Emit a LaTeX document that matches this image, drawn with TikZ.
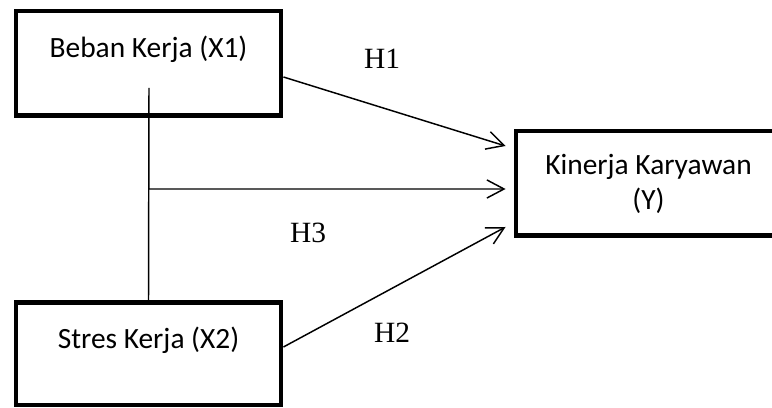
\documentclass[tikz,border=0pt]{standalone}
\usepackage{fontspec}
\setmainfont{Liberation Serif}
\newfontfamily\boxfont{Carlito}
\usetikzlibrary{positioning, calc}
\usetikzlibrary{arrows.meta}

\tikzset{
  varbox/.style={draw, line width=2pt, minimum width=108.1pt, minimum height=42.6pt,
    inner sep=0pt, align=center, font=\boxfont\fontsize{12}{14.3}\selectfont},
  hyp/.style={-{Straight Barb[length=7pt, width=7.4pt]}, line width=0.6pt},
  hlabel/.style={anchor=base, inner sep=0pt, font=\fontsize{12}{14}\selectfont}
}

\begin{document}
\begin{tikzpicture}[x=0.408pt, y=-0.408pt]

% Manually size the picture
\useasboundingbox (0, 0) rectangle (772, 408);

% Variable boxes
\node[varbox, text height=8pt, text depth=12.3pt] (x1) at (148.5, 63.25) {Beban Kerja (X1)};
\node[varbox, minimum height=41.8pt, text height=8pt, text depth=11.9pt] (x2) at (148.5, 353.75) {Stres Kerja (X2)};
\node[varbox, minimum height=42.8pt] (y) at (648.5, 183.5) {Kinerja Karyawan\\(Y)};

% Joint line between X1 and X2
\coordinate (vtop) at (149, 88);
\coordinate (mid) at (149, 189);
\draw[line width=0.6pt] (vtop) -- (x2.north);

% Hypothesis arrows
\draw[hyp] ($(x1.east)+(0, 13.75)$) -- ($(y.west)+(-8, -37.5)$);
\draw[hyp] (mid) -- ($(y.west)+(-8, 5.5)$);
\draw[hyp] ($(x2.east)+(0, -6.75)$) -- ($(y.west)+(-8, 43.5)$);

% Hypothesis labels
\node[hlabel] (h1) at (382, 69) {H1};
\node[hlabel] (h3) at (308, 243) {H3};
\node[hlabel] (h2) at (392, 343) {H2};

\end{tikzpicture}
\end{document}
